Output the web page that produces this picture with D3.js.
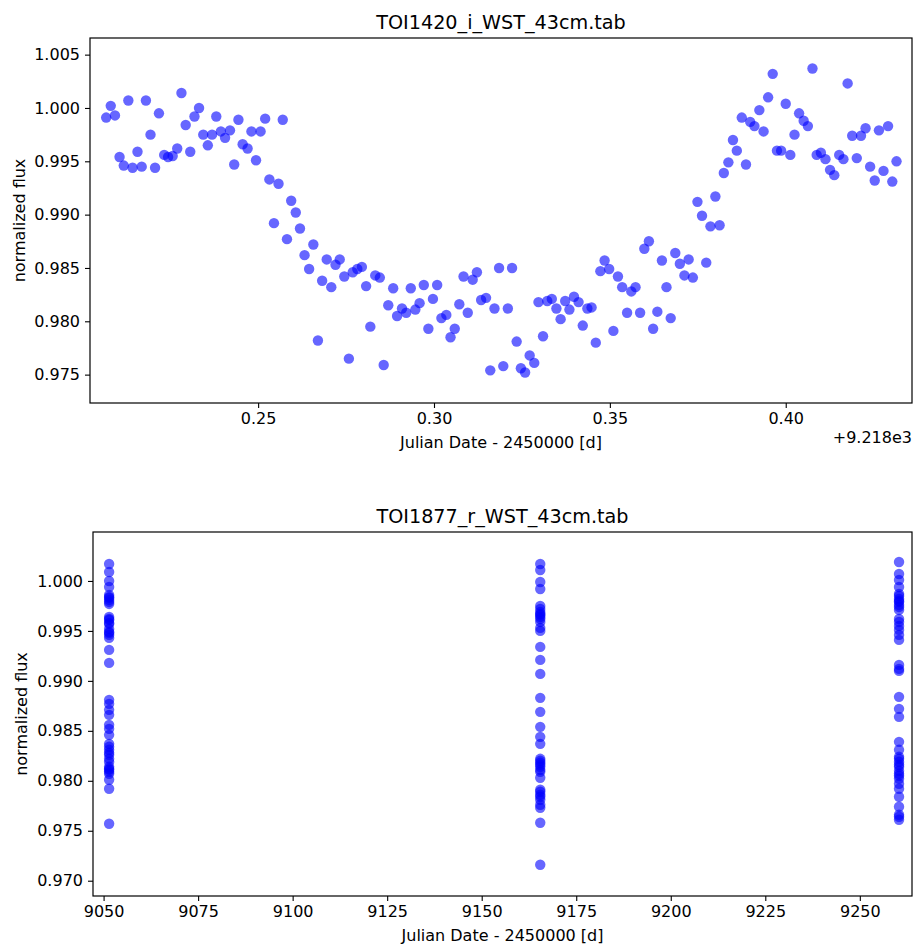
<!DOCTYPE html>
<html>
<head>
<meta charset="utf-8">
<script src="https://cdn.jsdelivr.net/npm/d3@7"></script>
<style>
  body { margin: 0; background: #fff; }
  svg text { font-family: "DejaVu Sans", sans-serif; fill: #000; }
</style>
</head>
<body>
<script>
// TOI1420, i band: time in days after JD 2459218, normalized flux
const toi1420Time = [
  0.2068, 0.2081, 0.2093, 0.2106, 0.2118, 0.2131, 0.2143, 0.2157, 0.2169, 0.2181,
  0.2194, 0.2207, 0.2218, 0.2233, 0.2244, 0.2257, 0.2270, 0.2282, 0.2294, 0.2307,
  0.2319, 0.2332, 0.2344, 0.2357, 0.2369, 0.2381, 0.2394, 0.2406, 0.2420, 0.2432,
  0.2444, 0.2456, 0.2470, 0.2481, 0.2494, 0.2507, 0.2520, 0.2532, 0.2545, 0.2558,
  0.2570, 0.2582, 0.2594, 0.2607, 0.2619, 0.2632, 0.2645, 0.2657, 0.2670, 0.2682,
  0.2695, 0.2708, 0.2720, 0.2732, 0.2745, 0.2758, 0.2769, 0.2782, 0.2795, 0.2807,
  0.2819, 0.2833, 0.2846, 0.2857, 0.2870, 0.2884, 0.2895, 0.2909, 0.2921, 0.2934,
  0.2947, 0.2959, 0.2971, 0.2984, 0.2997, 0.3009, 0.3021, 0.3035, 0.3047, 0.3059,
  0.3072, 0.3084, 0.3096, 0.3110, 0.3122, 0.3134, 0.3148, 0.3160, 0.3172, 0.3185,
  0.3197, 0.3210, 0.3222, 0.3235, 0.3247, 0.3259, 0.3272, 0.3285, 0.3297, 0.3310,
  0.3322, 0.3335, 0.3348, 0.3360, 0.3373, 0.3385, 0.3398, 0.3411, 0.3423, 0.3436,
  0.3448, 0.3460, 0.3473, 0.3485, 0.3498, 0.3510, 0.3523, 0.3535, 0.3549, 0.3561,
  0.3573, 0.3586, 0.3598, 0.3611, 0.3623, 0.3635, 0.3648, 0.3661, 0.3673, 0.3686,
  0.3699, 0.3712, 0.3724, 0.3736, 0.3749, 0.3762, 0.3774, 0.3786, 0.3800, 0.3812,
  0.3824, 0.3837, 0.3850, 0.3861, 0.3875, 0.3887, 0.3899, 0.3911, 0.3925, 0.3937,
  0.3950, 0.3963, 0.3975, 0.3987, 0.4000, 0.4013, 0.4025, 0.4038, 0.4051, 0.4063,
  0.4076, 0.4088, 0.4100, 0.4113, 0.4126, 0.4138, 0.4152, 0.4164, 0.4176, 0.4189,
  0.4202, 0.4214, 0.4227, 0.4240, 0.4253, 0.4265, 0.4278, 0.4291, 0.4303, 0.4315
];
const toi1420Flux = [
  0.9991, 1.0002, 0.9993, 0.9954, 0.9946, 1.0007, 0.9944, 0.9959, 0.9945, 1.0007,
  0.9975, 0.9944, 0.9995, 0.9956, 0.9954, 0.9955, 0.9962, 1.0014, 0.9984, 0.9959,
  0.9992, 1.0000, 0.9975, 0.9965, 0.9975, 0.9992, 0.9978, 0.9972, 0.9979, 0.9947,
  0.9989, 0.9966, 0.9962, 0.9978, 0.9951, 0.9978, 0.9990, 0.9933, 0.9892, 0.9929,
  0.9989, 0.9877, 0.9913, 0.9902, 0.9887, 0.9862, 0.9849, 0.9872, 0.9782, 0.9838,
  0.9858, 0.9832, 0.9853, 0.9858, 0.9842, 0.9765, 0.9846, 0.9849, 0.9851, 0.9833,
  0.9795, 0.9843, 0.9841, 0.9759, 0.9815, 0.9831, 0.9805, 0.9812, 0.9808, 0.9831,
  0.9811, 0.9817, 0.9834, 0.9793, 0.9821, 0.9834, 0.9803, 0.9806, 0.9785, 0.9793,
  0.9816, 0.9842, 0.9808, 0.9839, 0.9846, 0.9820, 0.9822, 0.9754, 0.9812, 0.9850,
  0.9758, 0.9812, 0.9850, 0.9781, 0.9756, 0.9752, 0.9768, 0.9761, 0.9818, 0.9786,
  0.9819, 0.9821, 0.9812, 0.9802, 0.9819, 0.9811, 0.9823, 0.9818, 0.9796, 0.9812,
  0.9813, 0.9780, 0.9847, 0.9857, 0.9849, 0.9791, 0.9842, 0.9832, 0.9808, 0.9828,
  0.9832, 0.9808, 0.9868, 0.9875, 0.9793, 0.9809, 0.9857, 0.9832, 0.9803, 0.9864,
  0.9854, 0.9843, 0.9858, 0.9841, 0.9912, 0.9899, 0.9855, 0.9889, 0.9917, 0.9890,
  0.9939, 0.9949, 0.9970, 0.9960, 0.9991, 0.9947, 0.9987, 0.9983, 0.9998, 0.9978,
  1.0010, 1.0032, 0.9960, 0.9960, 1.0004, 0.9956, 0.9975, 0.9995, 0.9988, 0.9983,
  1.0037, 0.9956, 0.9958, 0.9952, 0.9942, 0.9937, 0.9956, 0.9952, 1.0023, 0.9974,
  0.9953, 0.9974, 0.9981, 0.9945, 0.9932, 0.9979, 0.9941, 0.9983, 0.9931, 0.9950
];
const toi1420Offset = 9218;

// TOI1877, r band: three nights, flux of every point of each night
const toi1877Nights = [9051.46, 9165.48, 9260.37];
const toi1877Night1 = [
  1.0017, 1.0009, 1.0000, 0.9994, 0.9986, 0.9984, 0.9983, 0.9981, 0.9979, 0.9977,
  0.9964, 0.9962, 0.9961, 0.9958, 0.9957, 0.9952, 0.9949, 0.9948, 0.9946, 0.9943,
  0.9931, 0.9918, 0.9881, 0.9877, 0.9871, 0.9866, 0.9856, 0.9852, 0.9846, 0.9837,
  0.9834, 0.9831, 0.9828, 0.9826, 0.9822, 0.9819, 0.9814, 0.9812, 0.9811, 0.9809,
  0.9807, 0.9801, 0.9792, 0.9757
];
const toi1877Night2 = [
  1.0017, 1.0011, 0.9999, 0.9992, 0.9975, 0.9972, 0.9969, 0.9967, 0.9966, 0.9964,
  0.9962, 0.9959, 0.9953, 0.9950, 0.9934, 0.9921, 0.9907, 0.9883, 0.9869, 0.9854,
  0.9844, 0.9837, 0.9822, 0.9820, 0.9818, 0.9816, 0.9814, 0.9811, 0.9809, 0.9803,
  0.9791, 0.9789, 0.9786, 0.9784, 0.9781, 0.9776, 0.9773, 0.9758, 0.9716
];
const toi1877Night3 = [
  1.0019, 1.0007, 1.0001, 0.9994, 0.9987, 0.9985, 0.9982, 0.9980, 0.9979, 0.9976,
  0.9974, 0.9971, 0.9962, 0.9959, 0.9955, 0.9951, 0.9946, 0.9941, 0.9916, 0.9912,
  0.9910, 0.9884, 0.9872, 0.9864, 0.9839, 0.9831, 0.9824, 0.9822, 0.9819, 0.9816,
  0.9814, 0.9810, 0.9807, 0.9805, 0.9802, 0.9797, 0.9792, 0.9784, 0.9774, 0.9766,
  0.9764, 0.9761
];

const yTicks1420 = [0.975, 0.980, 0.985, 0.990, 0.995, 1.000, 1.005];
const xTicks1420 = [0.25, 0.30, 0.35, 0.40];
const yTicks1877 = [0.970, 0.975, 0.980, 0.985, 0.990, 0.995, 1.000];
const xTicks1877 = [9050, 9075, 9100, 9125, 9150, 9175, 9200, 9225, 9250];

const svg = d3.select("body").append("svg").attr("width", 914).attr("height", 945);

function drawPanel(cfg) {
    let g = svg.append("g");
    let x = cfg.x, y = cfg.y;
    let [x0, x1] = x.range();
    let [y0, y1] = y.range();

    g.append("g")
        .attr("transform", `translate(0, ${y0})`)
        .call(d3.axisBottom(x).tickValues(cfg.xTicks).tickFormat(cfg.xFormat).tickSize(5).tickPadding(5))
        .call(a => a.select(".domain").remove())
        .call(a => a.selectAll("line").attr("stroke", "#000").attr("stroke-width", 1.1))
        .call(a => a.selectAll("text").style("font-size", "16px").style("font-family", "DejaVu Sans"));

    g.append("g")
        .attr("transform", `translate(${x0}, 0)`)
        .call(d3.axisLeft(y).tickValues(cfg.yTicks).tickFormat(d3.format(".3f")).tickSize(5).tickPadding(5))
        .call(a => a.select(".domain").remove())
        .call(a => a.selectAll("line").attr("stroke", "#000").attr("stroke-width", 1.1))
        .call(a => a.selectAll("text").style("font-size", "16px").style("font-family", "DejaVu Sans"));

    g.append("g")
        .selectAll("circle")
        .data(cfg.points)
        .enter().append("circle")
        .attr("cx", d => x(d.t))
        .attr("cy", d => y(d.f))
        .attr("r", 5.2)
        .attr("fill", "#0000ff")
        .attr("fill-opacity", 0.6);

    g.append("rect")
        .attr("x", x0).attr("y", y1)
        .attr("width", x1 - x0).attr("height", y0 - y1)
        .attr("fill", "none").attr("stroke", "#000").attr("stroke-width", 1.2);

    g.append("text")
        .attr("x", (x0 + x1) / 2).attr("y", y1 - 9)
        .attr("text-anchor", "middle")
        .style("font-size", "19.2px")
        .text(cfg.title);

    g.append("text")
        .attr("x", (x0 + x1) / 2).attr("y", y0 + 45)
        .attr("text-anchor", "middle")
        .style("font-size", "16px")
        .text("Julian Date - 2450000 [d]");

    g.append("text")
        .attr("transform", `translate(${cfg.yLabelX}, ${(y0 + y1) / 2}) rotate(-90)`)
        .attr("text-anchor", "middle")
        .style("font-size", "16px")
        .text("normalized flux");

    if (cfg.offsetText) {
        g.append("text")
            .attr("x", x1).attr("y", y0 + 40)
            .attr("text-anchor", "end")
            .style("font-size", "16px")
            .text(cfg.offsetText);
    }
}

let points1420 = toi1420Time.map((t, i) => ({ t: t, f: toi1420Flux[i] }));
let points1877 = [toi1877Night1, toi1877Night2, toi1877Night3]
    .flatMap((night, n) => night.map(f => ({ t: toi1877Nights[n], f: f })));

drawPanel({
    title: "TOI1420_i_WST_43cm.tab",
    x: d3.scaleLinear([0.2022, 0.4359], [90, 912]),
    y: d3.scaleLinear([0.97234, 1.00656], [403, 38]),
    xTicks: xTicks1420,
    yTicks: yTicks1420,
    xFormat: d3.format(".2f"),
    points: points1420,
    yLabelX: 25,
    offsetText: "+" + d3.format(".3f")(toi1420Offset / 1000) + "e3"
});

drawPanel({
    title: "TOI1877_r_WST_43cm.tab",
    x: d3.scaleLinear([9047.2, 9263.8], [93, 912]),
    y: d3.scaleLinear([0.96847, 1.0049], [896, 532]),
    xTicks: xTicks1877,
    yTicks: yTicks1877,
    xFormat: d3.format("d"),
    points: points1877,
    yLabelX: 27
});
</script>
</body>
</html>
